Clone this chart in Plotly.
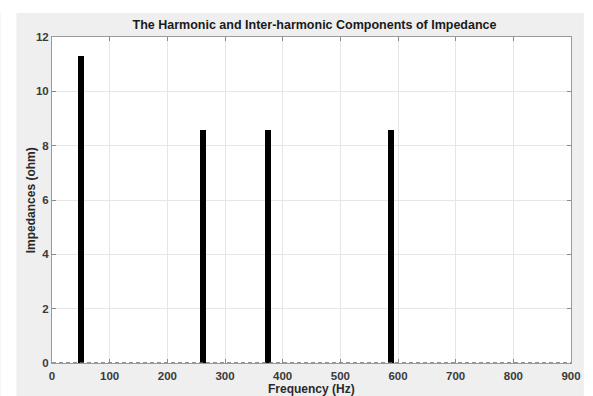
import plotly.graph_objects as go

# Frequency components (Hz) and their impedance magnitudes (ohm)
freqs = [50, 262, 375, 588]
impedances = [11.3, 8.58, 8.58, 8.58]

x_ticks = [0, 100, 200, 300, 400, 500, 600, 700, 800, 900]
y_ticks = [0, 2, 4, 6, 8, 10, 12]

FONT = "Liberation Sans, Arial, sans-serif"

fig = go.Figure()

# dashed baseline at zero
fig.add_trace(go.Scatter(
    x=[x_ticks[0], x_ticks[-1]], y=[0, 0], mode="lines",
    line=dict(color="#6e6e6e", width=1.5, dash="4px,3px"),
    hoverinfo="skip", showlegend=False,
))

fig.add_trace(go.Bar(
    x=freqs, y=impedances, width=11,
    marker=dict(color="black", line=dict(width=0)),
    showlegend=False,
))

axis_common = dict(
    showline=True, linecolor="#9a9a9a", linewidth=1, mirror="ticks",
    ticks="inside", ticklen=4, tickcolor="#8a8a8a",
    showgrid=True, gridcolor="#e6e6e6", gridwidth=1, zeroline=False,
    tickfont=dict(family=FONT, size=11.5, color="#3a3a3a", weight="bold"),
)

fig.update_xaxes(
    range=[0, 900], tickvals=x_ticks, ticktext=[str(v) for v in x_ticks],
    ticklabelstandoff=2,
    **axis_common,
)
fig.update_yaxes(
    range=[0, 12], tickvals=y_ticks, ticktext=[str(v) for v in y_ticks],
    **axis_common,
)

# white margins around the grey figure area
pw, ph = 525.0, 326.0
shapes = [
    dict(type="rect", xref="paper", yref="paper", layer="below",
         x0=-52 / pw, x1=(16 - 52) / pw, y0=-40 / ph, y1=370 / ph,
         fillcolor="white", line=dict(width=0)),
    dict(type="rect", xref="paper", yref="paper", layer="below",
         x0=-60 / pw, x1=560 / pw, y0=(363 - 13) / ph, y1=370 / ph,
         fillcolor="white", line=dict(width=0)),
    dict(type="rect", xref="paper", yref="paper", layer="below",
         x0=(590 - 52) / pw, x1=560 / pw, y0=-40 / ph, y1=370 / ph,
         fillcolor="white", line=dict(width=0)),
]

title_font = dict(family=FONT, size=12, color="#2a2a2a", weight="bold")
annotations = [
    dict(text="Frequency (Hz)", xref="paper", yref="paper",
         x=0.5, y=-25.5 / ph, xanchor="center", yanchor="middle",
         showarrow=False, font=title_font),
    dict(text="Impedances (ohm)", xref="paper", yref="paper",
         x=(31 - 52) / pw, y=0.5, xanchor="center", yanchor="middle",
         textangle=-90, showarrow=False, font=title_font),
]

fig.update_layout(
    width=593, height=396,
    margin=dict(l=52, r=16, t=37, b=33),
    paper_bgcolor="#efefef", plot_bgcolor="white",
    bargap=0,
    shapes=shapes,
    annotations=annotations,
    title=dict(
        text="The Harmonic and Inter-harmonic Components of Impedance",
        x=314.5 / 593, xanchor="center", y=1 - 25 / 396, yanchor="middle",
        font=dict(family=FONT, size=12.5, color="#1a1a1a", weight="bold"),
    ),
)

fig.write_html("out.html")
